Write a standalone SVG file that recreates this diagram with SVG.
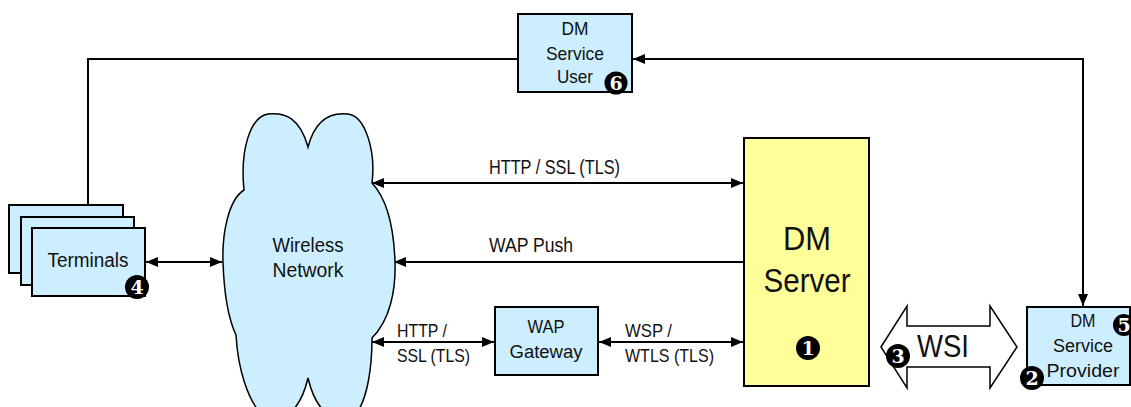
<svg xmlns="http://www.w3.org/2000/svg" width="1131" height="407" viewBox="0 0 1131 407">
<defs>
<style>
.box{fill:#cceeff;stroke:#000;stroke-width:2}
.srv{fill:#ffff99;stroke:#000;stroke-width:2}
.t{font-family:"Liberation Sans",Arial,sans-serif;fill:#111;text-anchor:middle}
.tl{font-family:"Liberation Sans",Arial,sans-serif;fill:#111;text-anchor:start}
.ln{fill:none;stroke:#000;stroke-width:2}
.bd{fill:#000}
.bn{font-family:"DejaVu Serif",serif;font-weight:bold;fill:#fff;text-anchor:middle;font-size:19px}
</style>
<marker id="ah" viewBox="0 0 12 10" refX="12" refY="5" markerWidth="12" markerHeight="10" markerUnits="userSpaceOnUse" orient="auto-start-reverse">
<path d="M0,0 L12,5 L0,10 Z" fill="#000"/>
</marker>
</defs>
<rect width="1131" height="407" fill="#fff"/>

<g id="connectors">
<polyline class="ln" points="88,205 88,59 518,59"/>
<polyline class="ln" points="633,59 1083,59 1083,306" marker-start="url(#ah)" marker-end="url(#ah)"/>
<line class="ln" x1="146" y1="262" x2="222" y2="262" marker-start="url(#ah)" marker-end="url(#ah)"/>
<line class="ln" x1="372" y1="183" x2="743" y2="183" marker-start="url(#ah)" marker-end="url(#ah)"/>
<line class="ln" x1="743" y1="262" x2="394" y2="262" marker-end="url(#ah)"/>
<line class="ln" x1="372" y1="342" x2="494" y2="342" marker-start="url(#ah)" marker-end="url(#ah)"/>
<line class="ln" x1="599" y1="342" x2="743" y2="342" marker-start="url(#ah)" marker-end="url(#ah)"/>
<text class="tl" x="489" y="174" font-size="19.5" textLength="131" lengthAdjust="spacingAndGlyphs">HTTP / SSL (TLS)</text>
<text class="tl" x="489" y="252" font-size="19.5" textLength="84" lengthAdjust="spacingAndGlyphs">WAP Push</text>
<text class="tl" x="397" y="337" font-size="18" textLength="50" lengthAdjust="spacingAndGlyphs">HTTP /</text>
<text class="tl" x="397" y="362" font-size="18" textLength="73" lengthAdjust="spacingAndGlyphs">SSL (TLS)</text>
<text class="tl" x="625" y="337" font-size="18" textLength="47" lengthAdjust="spacingAndGlyphs">WSP /</text>
<text class="tl" x="625" y="362" font-size="18" textLength="89" lengthAdjust="spacingAndGlyphs">WTLS (TLS)</text>
</g>

<g id="dm-service-user">
<rect class="box" x="518" y="14" width="114" height="78"/>
<text class="t" x="575" y="35" font-size="18.5" textLength="27" lengthAdjust="spacingAndGlyphs">DM</text>
<text class="t" x="575" y="60" font-size="18.5" textLength="58" lengthAdjust="spacingAndGlyphs">Service</text>
<text class="t" x="575" y="83" font-size="18.5" textLength="36" lengthAdjust="spacingAndGlyphs">User</text>
<circle class="bd" cx="616" cy="83" r="11.5"/>
<text class="bn" x="616" y="90">6</text>
</g>

<g id="terminals">
<rect class="box" x="9" y="205" width="114" height="68"/>
<rect class="box" x="21" y="217" width="113" height="68"/>
<rect class="box" x="32" y="228" width="113" height="68"/>
<text class="t" x="88" y="267" font-size="19.5" textLength="81" lengthAdjust="spacingAndGlyphs">Terminals</text>
<circle class="bd" cx="137" cy="287" r="12"/>
<text class="bn" x="137" y="294">4</text>
</g>

<g id="wireless-network">
<path fill="#cceeff" stroke="#000" stroke-width="1.5" d="M308,147 C300,118 285,112 268,114 C250,117 240,150 244,190 C228,200 222,235 223,262 C224,292 228,318 236,335 C238,370 248,400 262,415 C280,428 300,412 308,378 C316,412 336,428 355,415 C368,400 372,365 372,338 C390,320 396,290 395,262 C394,232 388,200 372,183 C376,150 365,116 348,114 C330,112 315,120 308,147 Z"/>
<text class="t" x="308" y="252" font-size="19.5" textLength="71" lengthAdjust="spacingAndGlyphs">Wireless</text>
<text class="t" x="308" y="277" font-size="19.5" textLength="71" lengthAdjust="spacingAndGlyphs">Network</text>
</g>

<g id="wap-gateway">
<rect class="box" x="495" y="307" width="103" height="68"/>
<text class="t" x="546" y="333" font-size="18" textLength="37" lengthAdjust="spacingAndGlyphs">WAP</text>
<text class="t" x="546" y="358" font-size="18" textLength="73" lengthAdjust="spacingAndGlyphs">Gateway</text>
</g>

<g id="dm-server">
<rect class="srv" x="744" y="138" width="125" height="248"/>
<text class="t" x="807" y="250" font-size="33" textLength="48" lengthAdjust="spacingAndGlyphs">DM</text>
<text class="t" x="807" y="292" font-size="33" textLength="87" lengthAdjust="spacingAndGlyphs">Server</text>
<circle class="bd" cx="808" cy="348" r="12"/>
<text class="bn" x="808" y="355">1</text>
</g>

<g id="wsi">
<polygon fill="#fff" stroke="#000" stroke-width="1.5" points="881,347 907,306 907,326 990,326 990,306 1017,347 990,388 990,367 907,367 907,388"/>
<text class="t" x="943" y="357" font-size="31" textLength="52" lengthAdjust="spacingAndGlyphs">WSI</text>
<circle class="bd" cx="898" cy="356" r="12"/>
<text class="bn" x="898" y="363">3</text>
</g>

<g id="dm-service-provider">
<rect class="box" x="1027" y="307" width="103" height="78"/>
<text class="t" x="1083" y="327" font-size="17.5" textLength="25" lengthAdjust="spacingAndGlyphs">DM</text>
<text class="t" x="1083" y="352" font-size="17.5" textLength="60" lengthAdjust="spacingAndGlyphs">Service</text>
<text class="t" x="1083" y="377" font-size="17.5" textLength="73" lengthAdjust="spacingAndGlyphs">Provider</text>
<circle class="bd" cx="1124" cy="325" r="11"/>
<text class="bn" x="1124" y="332">5</text>
<circle class="bd" cx="1032" cy="378" r="12"/>
<text class="bn" x="1032" y="385">2</text>
</g>
</svg>
